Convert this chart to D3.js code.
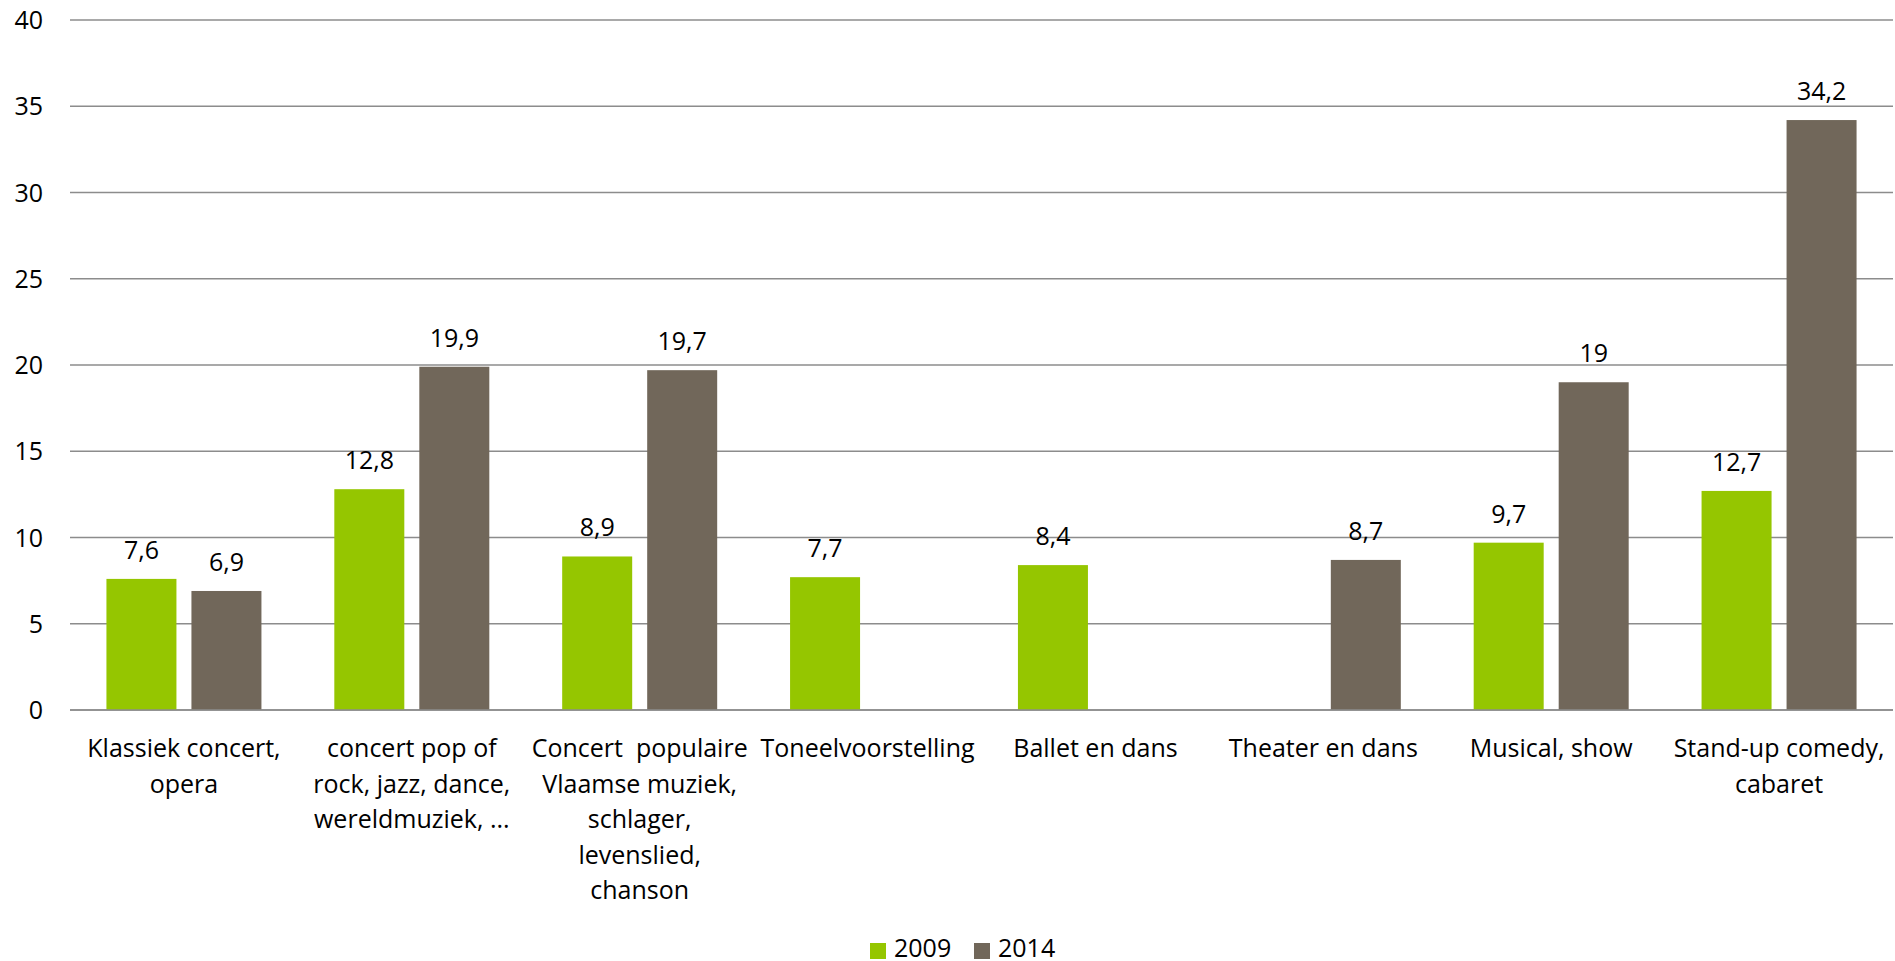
<!DOCTYPE html>
<html>
<head>
<meta charset="utf-8">
<script src="https://cdn.jsdelivr.net/npm/d3@7"></script>
<style>
  body { margin: 0; background: #fff; }
  svg text { font-family: "Open Sans", sans-serif; fill: #000; font-size: 25px; }
</style>
</head>
<body>
<div class="chart"></div>
<script>
/* Bezoek aan podiumvoorstellingen, 2009 vs 2014 */

var categories = [
  ["Klassiek concert,", "opera"],
  ["concert pop of", "rock, jazz, dance,", "wereldmuziek, ..."],
  ["Concert  populaire", "Vlaamse muziek,", "schlager,", "levenslied,", "chanson"],
  ["Toneelvoorstelling"],
  ["Ballet en dans"],
  ["Theater en dans"],
  ["Musical, show"],
  ["Stand-up comedy,", "cabaret"]
];
var series = ["2009", "2014"];
var values2009 = [7.6, 12.8, 8.9, 7.7, 8.4, null, 9.7, 12.7];
var values2014 = [6.9, 19.9, 19.7, null, null, 8.7, 19, 34.2];
var yTicks = [0, 5, 10, 15, 20, 25, 30, 35, 40];
var colors = ["#95c600", "#71675a"];

var width = 1895, height = 961;
var plotLeft = 70, plotRight = 1893, plotTop = 20, plotBottom = 710;

var svg = d3.select(".chart").append("svg")
    .attr("width", width)
    .attr("height", height);

var x0 = d3.scaleBand()
    .domain(d3.range(categories.length))
    .range([plotLeft, plotRight])
    .padding(0);

var groupW = 155;
var x1 = d3.scaleBand()
    .domain(series)
    .range([0, groupW])
    .paddingInner(2 - groupW / 85)
    .paddingOuter(0);

var y = d3.scaleLinear().domain([0, 40]).range([plotBottom, plotTop]);

// gridlines
svg.append("g")
    .selectAll("line")
    .data(yTicks)
    .enter()
    .append("line")
    .attr("x1", plotLeft)
    .attr("x2", plotRight)
    .attr("y1", function (d) { return y(d); })
    .attr("y2", function (d) { return y(d); })
    .style("stroke", "#8c8c8c")
    .style("stroke-width", 1.5);

// y labels
svg.append("g")
    .selectAll("text")
    .data(yTicks)
    .enter()
    .append("text")
    .attr("x", 43)
    .attr("y", function (d) { return y(d); })
    .attr("dy", "0.36em")
    .attr("text-anchor", "end")
    .text(function (d) { return d; });

var rows = categories.map(function (c, i) {
  return [
    { cat: i, s: "2009", v: values2009[i], c: colors[0] },
    { cat: i, s: "2014", v: values2014[i], c: colors[1] }
  ].filter(function (d) { return d.v != null; });
});
var flat = [].concat.apply([], rows);

function barX(d) {
  return x0(d.cat) + (x0.bandwidth() - groupW) / 2 + x1(d.s);
}

svg.append("g")
    .selectAll("rect")
    .data(flat)
    .enter()
    .append("rect")
    .attr("x", barX)
    .attr("width", x1.bandwidth())
    .attr("y", function (d) { return y(d.v); })
    .attr("height", function (d) { return y(0) - y(d.v); })
    .style("fill", function (d) { return d.c; });

// zero line on top of bars
svg.append("line")
    .attr("x1", plotLeft).attr("x2", plotRight)
    .attr("y1", y(0)).attr("y2", y(0))
    .style("stroke", "#8c8c8c")
    .style("stroke-width", 1.5);

// value labels
svg.append("g")
    .selectAll("text")
    .data(flat)
    .enter()
    .append("text")
    .attr("x", function (d) { return barX(d) + x1.bandwidth() / 2; })
    .attr("y", function (d) { return y(d.v) - 20; })
    .attr("text-anchor", "middle")
    .text(function (d) { return String(d.v).replace(".", ","); });

// category labels
var catG = svg.append("g")
    .selectAll("text")
    .data(categories)
    .enter()
    .append("text")
    .attr("text-anchor", "middle")
    .attr("xml:space", "preserve")
    .style("white-space", "pre");

catG.selectAll("tspan")
    .data(function (d, i) { return d.map(function (line, j) { return { line: line, i: i, j: j }; }); })
    .enter()
    .append("tspan")
    .attr("x", function (d) { return x0(d.i) + x0.bandwidth() / 2; })
    .attr("y", function (d) { return 757 + d.j * 35.5; })
    .text(function (d) { return d.line; });

// legend
var legend = svg.append("g")
    .selectAll("g")
    .data(series)
    .enter()
    .append("g")
    .attr("transform", function (d, i) { return "translate(" + (870 + i * 104) + ",0)"; });

legend.append("rect")
    .attr("x", 0).attr("y", 943)
    .attr("width", 16).attr("height", 16)
    .style("fill", function (d, i) { return colors[i]; });

legend.append("text")
    .attr("x", 24).attr("y", 957)
    .text(function (d) { return d; });
</script>
</body>
</html>
